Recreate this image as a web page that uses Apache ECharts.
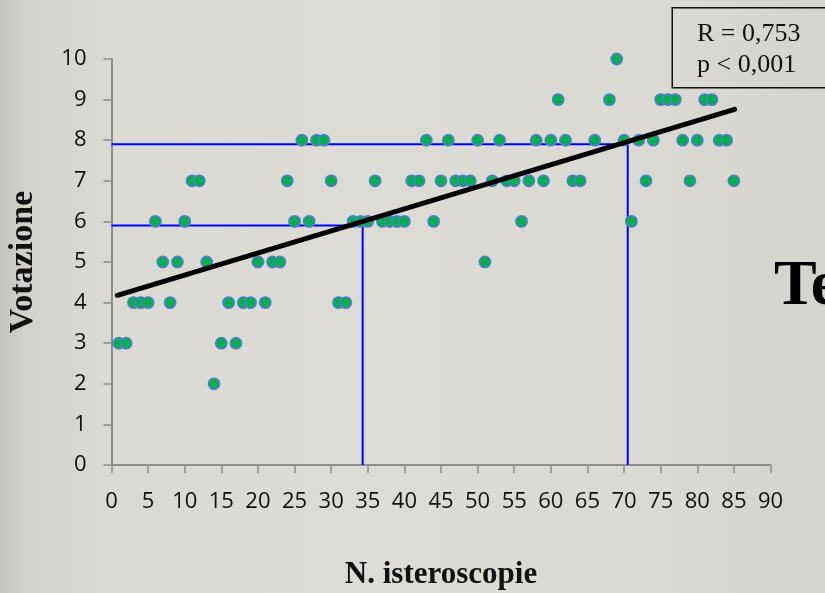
<!DOCTYPE html>
<html>
<head>
<meta charset="utf-8">
<script src="https://cdn.jsdelivr.net/npm/echarts@6/dist/echarts.min.js"></script>
<style>
html,body{margin:0;padding:0;}
body{width:825px;height:593px;overflow:hidden;
background:linear-gradient(to right,#c6c4bf 0%,#d3d1cc 3%,#dbd9d4 12%,#dddbd6 45%,#dbd9d4 80%,#d5d3ce 100%);}
#chart{width:825px;height:593px;}
</style>
</head>
<body>
<div id="chart"></div>
<script>
// N. isteroscopie (x) and Votazione (y) for each point
const pointsX = [1,2,3,4,5,6,7,8,9,10,11,12,13,14,15,16,17,18,19,20,
  21,22,23,24,25,26,27,28,29,30,31,32,33,34,35,36,37,38,39,40,
  41,42,43,44,45,46,47,48,49,50,51,52,53,54,55,56,57,58,59,60,
  61,62,63,64,66,68,69,70,71,72,73,74,75,76,77,78,79,80,81,82,83,84,85];
const pointsY = [3,3,4,4,4,6,5,4,5,6,7,7,5,2,3,4,3,4,4,5,
  4,5,5,7,6,8,6,8,8,7,4,4,6,6,6,7,6,6,6,6,
  7,7,8,6,7,8,7,7,7,8,5,7,8,7,7,6,7,8,7,8,
  9,8,7,7,8,9,10,8,6,8,7,8,9,9,9,8,7,8,9,9,8,8,7];
// regression line end points
const trendX = [0.8, 85.1];
const trendY = [4.18, 8.76];
// blue reference lines
const guideLowX = [0, 34.3, 34.3];
const guideLowY = [5.9, 5.9, 0];
const guideHighX = [0, 70.5, 70.5];
const guideHighY = [7.9, 7.9, 0];
// axes
const xMin = 0, xMax = 90, xStep = 5;
const yMin = 0, yMax = 10, yStep = 1;
const statLines = ['R = 0,753', 'p < 0,001'];
const sideText = 'Te';

const zip = (a, b) => a.map((v, i) => [v, b[i]]);

const chart = echarts.init(document.getElementById('chart'), null, {renderer: 'canvas'});
chart.setOption({
  backgroundColor: 'transparent',
  animation: false,
  grid: {left: 111.5, right: 54.5, top: 59, bottom: 128, containLabel: false, outerBoundsMode: 'none'},
  xAxis: {
    type: 'value', min: xMin, max: xMax, interval: xStep,
    name: 'N. isteroscopie', nameLocation: 'middle', nameGap: 94,
    nameTextStyle: {fontFamily: 'Liberation Serif', fontWeight: 'bold', fontSize: 31, color: '#111'},
    axisLine: {show: true, lineStyle: {color: '#8e8e8e', width: 2}},
    axisTick: {show: true, length: 8, lineStyle: {color: '#8e8e8e', width: 1.5}},
    axisLabel: {margin: 26, fontFamily: 'Open Sans', fontSize: 22, color: '#111'},
    splitLine: {show: false}
  },
  yAxis: {
    type: 'value', min: yMin, max: yMax, interval: yStep,
    name: 'Votazione', nameLocation: 'middle', nameGap: 71,
    nameTextStyle: {fontFamily: 'Liberation Serif', fontWeight: 'bold', fontSize: 34, color: '#111'},
    axisLine: {show: true, lineStyle: {color: '#8e8e8e', width: 2}},
    axisTick: {show: true, length: 8, lineStyle: {color: '#8e8e8e', width: 1.5}},
    axisLabel: {margin: 25, fontFamily: 'Open Sans', fontSize: 22, color: '#111'},
    splitLine: {show: false}
  },
  series: [
    {type: 'line', data: zip(guideLowX, guideLowY), symbol: 'none', z: 1,
     lineStyle: {color: '#0000ff', width: 2}},
    {type: 'line', data: zip(guideHighX, guideHighY), symbol: 'none', z: 1,
     lineStyle: {color: '#0000ff', width: 2}},
    {type: 'scatter', data: zip(pointsX, pointsY), symbol: 'circle', symbolSize: 11, z: 3,
     itemStyle: {color: '#00b050', borderColor: '#4f81bd', borderWidth: 1.8, opacity: 1}},
    {type: 'line', data: zip(trendX, trendY), symbol: 'none', z: 5,
     lineStyle: {color: '#000', width: 5, cap: 'round'}}
  ],
  graphic: [
    {type: 'rect', left: 671.5, top: 7, shape: {width: 160, height: 80},
     style: {fill: 'transparent', stroke: '#111', lineWidth: 1.5}, z: 10},
    {type: 'text', left: 697, top: 19, z: 11,
     style: {text: statLines.join('\n'), font: '26px "Liberation Serif"', lineHeight: 31, fill: '#111'}},
    {type: 'text', left: 774, top: 255, z: 11,
     style: {text: sideText, font: 'bold 64px "Liberation Serif"', fill: '#000'}}
  ]
});
</script>
</body>
</html>
